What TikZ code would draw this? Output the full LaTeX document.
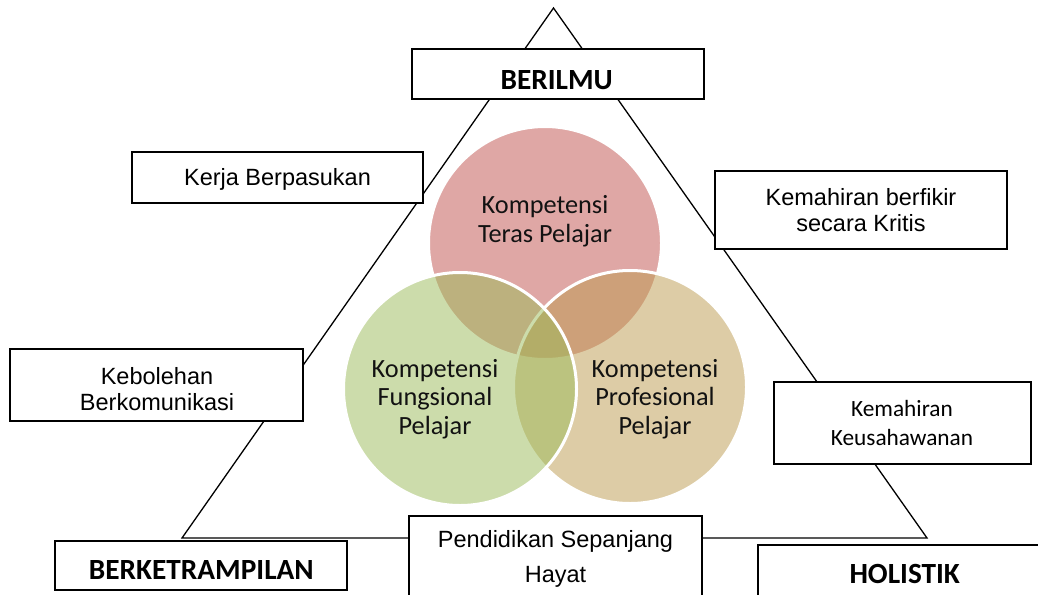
\documentclass[tikz,border=0pt]{standalone}
\usepackage{fontspec}
\setmainfont{Liberation Sans}
\newfontfamily\calfont{Carlito}
\definecolor{redc}{RGB}{192,80,77}
\definecolor{tanc}{RGB}{189,155,79}
\definecolor{greenc}{RGB}{155,187,89}
\begin{document}
\begin{tikzpicture}[x=1pt,y=-1pt,
  box/.style={draw=black, line width=1.5pt, fill=white, inner sep=0pt, rectangle},
  tri/.style={draw=black, line width=1.3pt, line join=miter},
  vcirc/.style={circle, inner sep=0pt, minimum size=233pt, fill opacity=0.5, draw=white, draw opacity=1, line width=3pt},
  atxt/.style={font=\fontsize{23.5}{26}\selectfont, align=center, anchor=base, inner sep=0pt},
  ctxt/.style={font=\calfont\fontsize{26.3}{28.5}\selectfont, align=center, anchor=base, inner sep=0pt, text=black!93},
  ktxt/.style={font=\calfont\fontsize{23.3}{29}\selectfont, align=center, anchor=base, inner sep=0pt},
  ttxt/.style={font=\calfont\bfseries\fontsize{29.3}{31}\selectfont, anchor=base, inner sep=0pt}]
\clip (0,0) rectangle (1038,594);
\fill[white] (0,0) rectangle (1038,594);
% triangle
\coordinate (A) at (553.5,8);
\coordinate (B) at (182,538);
\coordinate (C) at (927,538);
\draw[tri] (A) -- (B) -- (C) -- cycle;
% boxes
\node[box, minimum width=291pt, minimum height=51pt] (kerja) at (277.5,177.5) {};
\node[box, minimum width=292pt, minimum height=78pt] (fikir) at (861,210) {};
\node[box, minimum width=293pt, minimum height=72pt] (bolehan) at (156.5,385) {};
\node[box, minimum width=257pt, minimum height=82pt] (usaha) at (902.5,423) {};
\node[box, minimum width=293pt, minimum height=104pt] (didik) at (555.5,568) {};
\node[box, minimum width=292pt, minimum height=50pt] (ilmu) at (558,74) {};
\node[box, minimum width=292pt, minimum height=49pt] (kemahiran) at (201,565.5) {};
\node[box, minimum width=302pt, minimum height=75pt] (holistik) at (909,582.5) {};
% box texts (anchor base = baseline of the last line)
\node[atxt] (kerjat) at (277.5,185) {Kerja Berpasukan};
\node[atxt] (fikirt) at (861,231) {Kemahiran berfikir\\secara Kritis};
\node[atxt] (bolehant) at (157,410) {Kebolehan\\Berkomunikasi};
\node[ktxt] (usahat) at (902,445) {Kemahiran\\Keusahawanan};
\node[atxt, font=\fontsize{23.5}{35}\selectfont] (didikt) at (555.5,582) {Pendidikan Sepanjang\\Hayat};
\node[ttxt] (ilmut) at (556.7,89) {BERILMU};
\node[ttxt] (kemahirant) at (201.3,579.3) {BERKETRAMPILAN};
\node[ttxt] (holistikt) at (904.7,583) {HOLISTIK};
% circles
\node[vcirc, fill=redc] (teras) at (545,243) {};
\node[vcirc, fill=tanc] (prof) at (630,387) {};
\node[vcirc, fill=greenc] (fung) at (460,389) {};
% circle texts
\node[ctxt] (terast) at (545,242) {Kompetensi\\Teras Pelajar};
\node[ctxt] (fungt) at (435,434) {Kompetensi\\Fungsional\\Pelajar};
\node[ctxt] (proft) at (655,434) {Kompetensi\\Profesional\\Pelajar};
\end{tikzpicture}
\end{document}
